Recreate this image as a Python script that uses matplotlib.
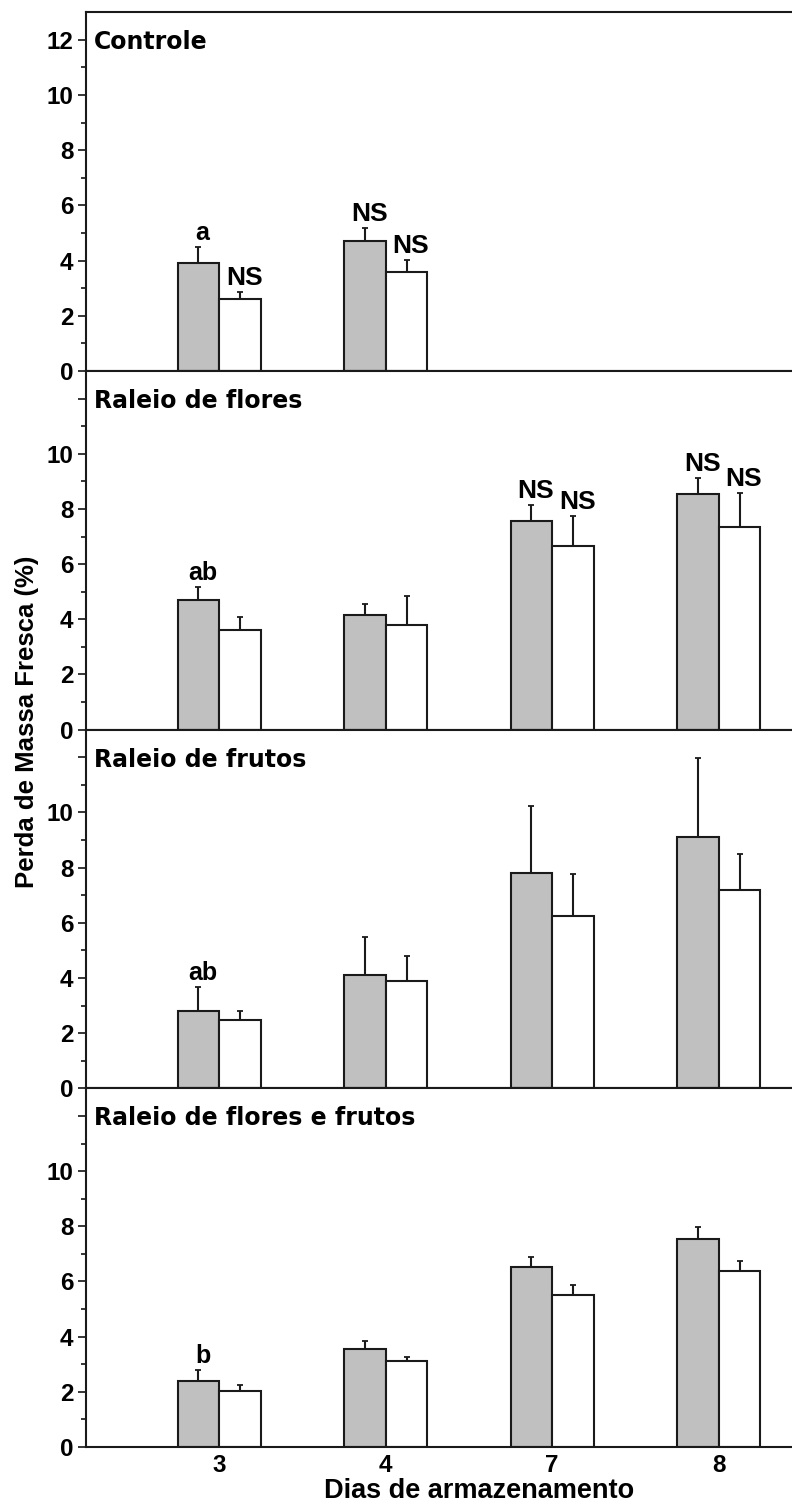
import numpy as np
import matplotlib
matplotlib.use('Agg')
import matplotlib.pyplot as plt
from matplotlib.ticker import FixedLocator

nan = np.nan
days = ['3', '4', '7', '8']
panels = ['Controle', 'Raleio de flores', 'Raleio de frutos', 'Raleio de flores e frutos']

# grey bars
grey_vals = [[3.9, 4.7, nan, nan],
             [4.7, 4.15, 7.55, 8.55],
             [2.8, 4.1, 7.8, 9.1],
             [2.38, 3.54, 6.52, 7.55]]
grey_err = [[0.6, 0.47, nan, nan],
            [0.47, 0.41, 0.58, 0.56],
            [0.89, 1.38, 2.42, 2.87],
            [0.42, 0.29, 0.38, 0.43]]
# white bars
white_vals = [[2.6, 3.6, nan, nan],
              [3.6, 3.8, 6.67, 7.35],
              [2.46, 3.9, 6.23, 7.18],
              [2.04, 3.13, 5.51, 6.39]]
white_err = [[0.27, 0.42, nan, nan],
             [0.48, 1.03, 1.08, 1.23],
             [0.34, 0.89, 1.52, 1.32],
             [0.21, 0.15, 0.36, 0.35]]
# letters over the bars
grey_txt = [['a', 'NS', '', ''],
            ['ab', '', 'NS', 'NS'],
            ['ab', '', '', ''],
            ['b', '', '', '']]
white_txt = [['NS', 'NS', '', ''],
             ['', '', 'NS', 'NS'],
             ['', '', '', ''],
             ['', '', '', '']]

plt.rcParams['font.family'] = ['Liberation Sans', 'DejaVu Sans']
plt.rcParams['font.weight'] = 'bold'

fig, axes = plt.subplots(4, 1, sharex=True, figsize=(7.92, 15.05), dpi=100)
fig.subplots_adjust(left=86/792, right=1.0, top=1-12.3/1505, bottom=(1505-1447)/1505, hspace=0)

x = np.arange(len(days))
w = 0.25
edge = '#1a1a1a'
for i, ax in enumerate(axes):
    g = np.array(grey_vals[i])
    wh = np.array(white_vals[i])
    ge = np.array(grey_err[i])
    we = np.array(white_err[i])
    ax.bar(x - w/2, g, w, color='#c0c0c0', edgecolor=edge, linewidth=1.5, zorder=2)
    ax.bar(x + w/2, wh, w, color='white', edgecolor=edge, linewidth=1.5, zorder=2)
    ax.errorbar(x - w/2, g, yerr=[np.zeros(4), ge], fmt='none', ecolor=edge,
                elinewidth=1.5, capsize=2.5, capthick=1.3, zorder=1)
    ax.errorbar(x + w/2, wh, yerr=[np.zeros(4), we], fmt='none', ecolor=edge,
                elinewidth=1.5, capsize=2.5, capthick=1.3, zorder=1)

    for j in range(len(days)):
        for xp, v, e, t in [(x[j] - w/2, g[j], ge[j], grey_txt[i][j]),
                            (x[j] + w/2, wh[j], we[j], white_txt[i][j])]:
            if t:
                fs = 19 if t == 'NS' else 18
                ax.annotate(t, (xp, v + e), xytext=(3, 5), textcoords='offset points',
                            ha='center', va='baseline', fontsize=fs, fontweight='bold')

    ax.text(8/706, 0.897, panels[i], transform=ax.transAxes, fontsize=17,
            family='DejaVu Sans', fontweight='bold', va='baseline', ha='left')

    ax.set_ylim(0, 13)
    ax.set_xlim(-0.80, 3.44)
    ax.yaxis.set_major_locator(FixedLocator([0, 2, 4, 6, 8, 10, 12]))
    ax.yaxis.set_minor_locator(FixedLocator([1, 3, 5, 7, 9, 11]))
    labels = ['0', '2', '4', '6', '8', '10', '12' if i == 0 else '']
    ax.set_yticklabels(labels)
    ax.tick_params(axis='y', which='major', direction='out', length=6, width=1.1,
                   labelsize=17.5, pad=3)
    ax.tick_params(axis='y', which='minor', direction='out', length=3.5, width=1.1)
    ax.tick_params(axis='x', length=0, labelsize=17.5, pad=5)
    ax.spines['right'].set_visible(False)
    for s in ['left', 'top', 'bottom']:
        ax.spines[s].set_linewidth(1.5)
        ax.spines[s].set_color(edge)

axes[-1].set_xticks(x)
axes[-1].set_xticklabels(days)
axes[-1].set_xlabel('Dias de armazenamento', fontsize=19.5, fontweight='bold')
axes[-1].xaxis.label.set_va('baseline')
axes[-1].xaxis.set_label_coords((479-86)/706, -(1498.5-1447)/358.7)

fig.text(27/792, 1-722/1505, 'Perda de Massa Fresca (%)', rotation=90,
         ha='center', va='center', fontsize=18.5, fontweight='bold')

fig.savefig('out.png', dpi=100)
